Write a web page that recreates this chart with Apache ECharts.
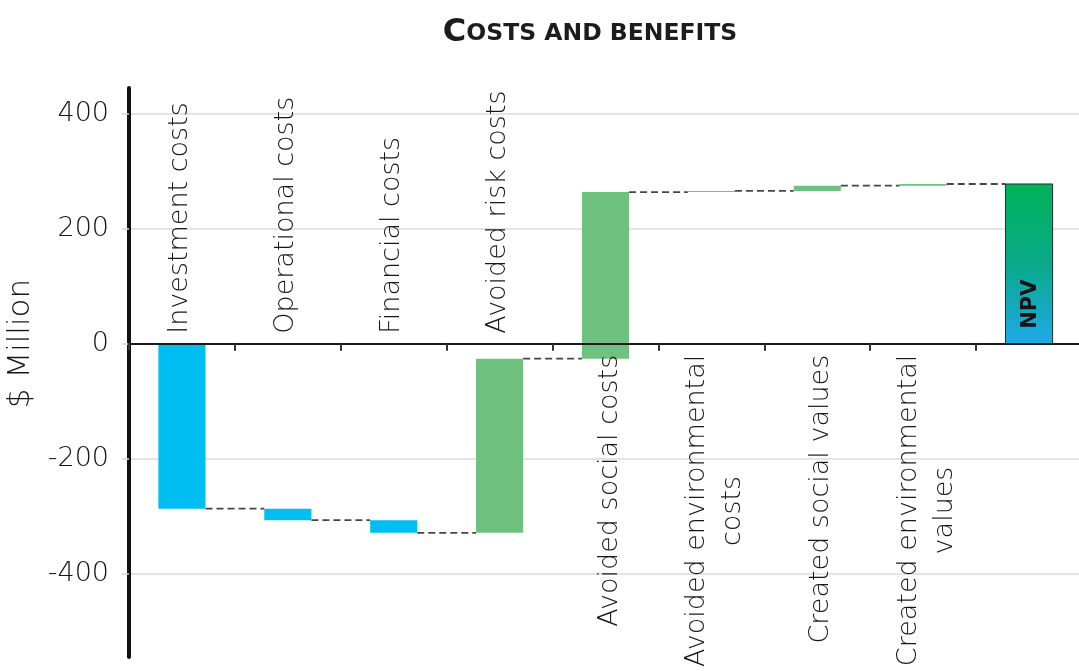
<!DOCTYPE html>
<html>
<head>
<meta charset="utf-8">
<script src="https://cdn.jsdelivr.net/npm/echarts@6/dist/echarts.min.js"></script>
<style>
  html, body { margin: 0; padding: 0; background: #ffffff; }
  #chart { width: 1079px; height: 671px; }
</style>
</head>
<body>
<div id="chart"></div>
<script>
// Waterfall of project costs and benefits, $ Million
const categories = [
  'Investment costs',
  'Operational costs',
  'Financial costs',
  'Avoided risk costs',
  'Avoided social costs',
  'Avoided environmental\ncosts',
  'Created social values',
  'Created environmental\nvalues',
  'NPV'
];
// change contributed by each step (the last category is the running total)
const changes = [-287, -20, -22, 303, 290, 2, 9, 3];
const yTicks = [-400, -200, 0, 200, 400];

const COST = '#00bdf2';
const BENEFIT = '#6fc17f';
const FONT = 'DejaVu Sans';
const LABEL_SIZE = 27;
const TEXT = '#161616';

// floating segments: [index, start, end]
const steps = [];
let running = 0;
changes.forEach(function (d, i) {
  steps.push([i, running, running + d]);
  running += d;
});
steps.push([changes.length, 0, running]); // NPV total

function renderItem(params, api) {
  const i = api.value(0);
  const s = api.value(1);
  const e = api.value(2);
  const isTotal = i === categories.length - 1;
  const bw = api.size([1, 0])[0] * 0.445;
  const p0 = api.coord([i, s]);
  const p1 = api.coord([i, e]);
  const zeroPt = api.coord([i, 0]);
  const x = p0[0] - bw / 2;
  const top = Math.min(p0[1], p1[1]);
  const h = Math.max(Math.abs(p1[1] - p0[1]), 1);
  const children = [];

  let fill = e >= s ? BENEFIT : COST;
  if (isTotal) {
    fill = new echarts.graphic.LinearGradient(0, 0, 0, 1, [
      { offset: 0, color: '#00b257' },
      { offset: 0.5, color: '#0aa98a' },
      { offset: 1, color: '#1ea9ea' }
    ]);
  }
  children.push({
    type: 'rect',
    shape: { x: x, y: top, width: bw, height: h },
    style: isTotal ? { fill: fill, stroke: '#2a2a2a', lineWidth: 1 } : { fill: fill }
  });

  // dashed connector to the next bar
  if (!isTotal) {
    const nextLeft = api.coord([i + 1, e])[0] - bw / 2;
    children.push({
      type: 'line',
      shape: { x1: x + bw, y1: p1[1], x2: nextLeft, y2: p1[1] },
      style: { stroke: '#454545', lineWidth: 1.8, lineDash: [7, 4] },
      z2: -1
    });
  }

  // category label, rotated, on the free side of the zero line
  const name = categories[i];
  const lines = name.split('\n');
  const rich = {
    c: { align: 'center', fontSize: LABEL_SIZE, fontWeight: 200, fontFamily: FONT, fill: TEXT, lineHeight: 36, height: 36 }
  };
  const txt = lines.map(function (l) { return '{c|' + l + '}'; }).join('\n');
  if (isTotal) {
    children.push({
      type: 'text',
      x: zeroPt[0] + 1,
      y: zeroPt[1] - 15,
      rotation: Math.PI / 2,
      style: {
        text: name, align: 'left', verticalAlign: 'middle',
        fontSize: 21, fontWeight: 'bold', fontFamily: FONT, fill: '#141414'
      }
    });
  } else if (Math.max(s, e) <= 0) {
    children.push({
      type: 'text',
      x: zeroPt[0] - 2,
      y: zeroPt[1] - 10,
      rotation: Math.PI / 2,
      style: { text: txt, rich: rich, align: 'left', verticalAlign: 'middle' }
    });
  } else {
    children.push({
      type: 'text',
      x: zeroPt[0] + 4,
      y: zeroPt[1] + 11,
      rotation: Math.PI / 2,
      style: { text: txt, rich: rich, align: 'right', verticalAlign: 'middle' }
    });
  }
  return { type: 'group', children: children };
}

const chart = echarts.init(document.getElementById('chart'), null, { renderer: 'canvas' });
chart.setOption({
  animation: false,
  backgroundColor: '#ffffff',
  title: {
    text: '{a|C}{b|OSTS AND BENEFITS}',
    left: 585,
    top: 6,
    textAlign: 'center',
    textStyle: {
      rich: {
        a: { fontSize: 32, fontWeight: 'bold', fontFamily: FONT, color: '#1c1c1c', verticalAlign: 'bottom', lineHeight: 38 },
        b: { fontSize: 23.5, fontWeight: 'bold', fontFamily: FONT, color: '#1c1c1c', verticalAlign: 'bottom', lineHeight: 38, padding: [0, 0, 3, 0] }
      }
    }
  },
  grid: { left: 129, right: -3, top: 88, bottom: 14, outerBoundsMode: 'none', containLabel: false },
  xAxis: {
    type: 'category',
    data: categories,
    z: 10,
    axisLine: { onZero: true, lineStyle: { color: '#1a1a1a', width: 2 } },
    axisTick: { show: true, interval: 0, length: 7, lineStyle: { color: '#333333', width: 2 } },
    axisLabel: { show: false, interval: 0 },
    splitLine: { show: false }
  },
  yAxis: {
    type: 'value',
    min: -545,
    max: 445,
    name: '$ Million',
    nameLocation: 'middle',
    nameRotate: 90,
    nameGap: 81,
    nameTextStyle: { fontSize: 31, fontWeight: 200, fontFamily: FONT, color: TEXT, padding: [0, 0, 0, 58] },
    axisLine: { show: true, lineStyle: { color: '#111111', width: 4 } },
    axisTick: { show: true, length: 7, customValues: yTicks, lineStyle: { color: '#d6d6cf', width: 1.5 } },
    axisLabel: { customValues: yTicks, margin: 20, fontSize: 27, fontWeight: 200, fontFamily: FONT, color: TEXT },
    splitLine: { show: true, lineStyle: { color: '#dcdcd5', width: 1.5 } }
  },
  series: [{
    type: 'custom',
    renderItem: renderItem,
    encode: { x: 0, y: [1, 2] },
    data: steps,
    clip: false
  }]
});
</script>
</body>
</html>
